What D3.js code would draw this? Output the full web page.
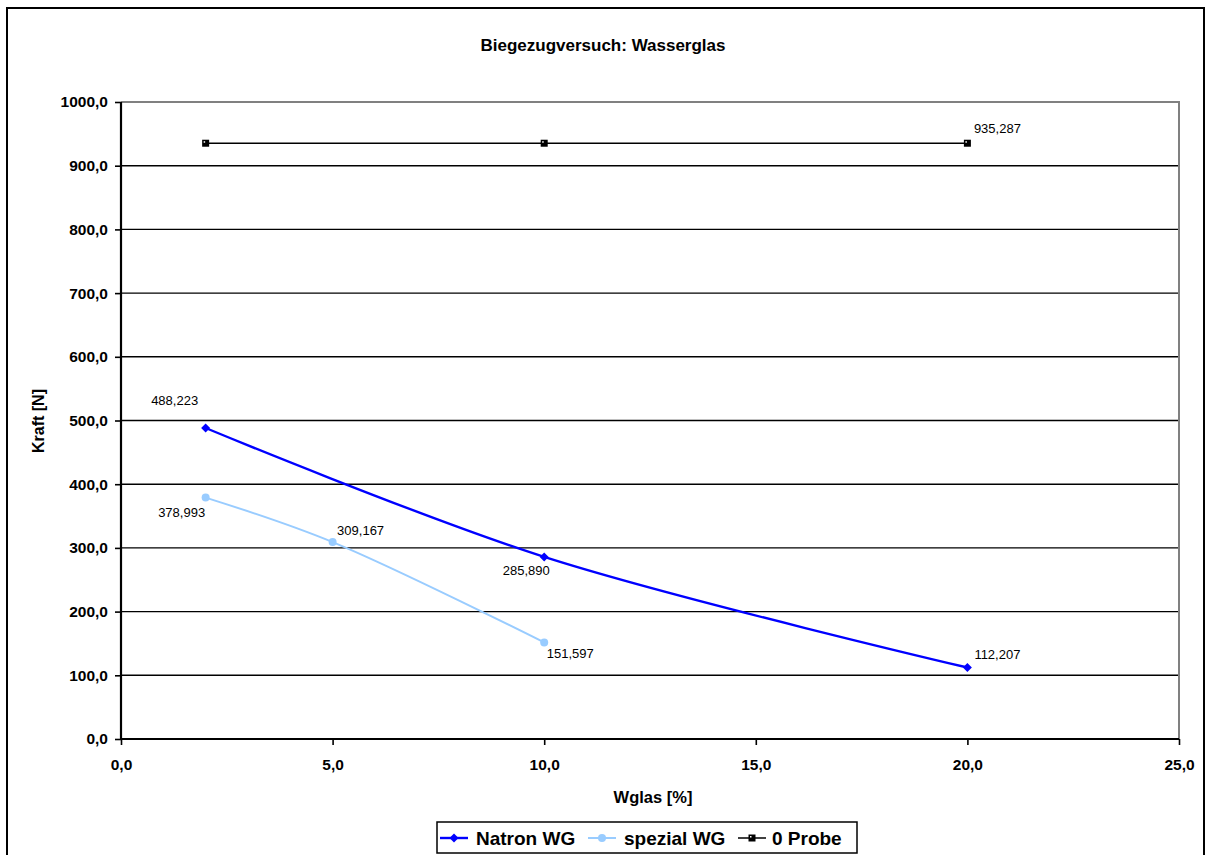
<!DOCTYPE html>
<html>
<head>
<meta charset="utf-8">
<script src="https://cdn.jsdelivr.net/npm/d3@7"></script>
<style>
  body { margin: 0; background: #fff; }
  svg { display: block; font-family: Arial, "Liberation Sans", sans-serif; }
</style>
</head>
<body>
<svg id="chart" width="1207" height="855"></svg>
<script>
// data
const natronX = [2, 10, 20]
const natronY = [488.223, 285.890, 112.207]
const spezialX = [2, 5, 10]
const spezialY = [378.993, 309.167, 151.597]
const probeX = [2, 10, 20]
const probeY = [935.287, 935.287, 935.287]
const xTicks = [0, 5, 10, 15, 20, 25]
const yTicks = [0, 100, 200, 300, 400, 500, 600, 700, 800, 900, 1000]

const svg = d3.select("#chart")
const plotL = 121, plotR = 1179, plotT = 102, plotB = 739

const x = d3.scaleLinear().domain([0, 25]).range([plotL, plotR])
const y = d3.scaleLinear().domain([0, 1000]).range([plotB, plotT])
const comma = f => v => d3.format(f)(v).replace(".", ",")

// outer frame
svg.append("rect").attr("x", 7).attr("y", 8).attr("width", 1197).attr("height", 855)
  .attr("fill", "#fff").attr("stroke", "#000").attr("stroke-width", 2)

svg.append("text").attr("x", 603).attr("y", 51).attr("text-anchor", "middle")
  .attr("font-size", 17).attr("font-weight", "bold").text("Biegezugversuch: Wasserglas")

// gridlines
svg.append("g").selectAll("line").data(yTicks.slice(1, -1)).join("line")
  .attr("x1", plotL).attr("x2", plotR).attr("y1", d => y(d)).attr("y2", d => y(d))
  .attr("stroke", "#000").attr("stroke-width", 1.4)

// plot border top/right (gray)
svg.append("path").attr("d", `M${plotL},${plotT}H${plotR}V${plotB}`)
  .attr("fill", "none").attr("stroke", "#808080").attr("stroke-width", 2)

// axes
const xAxis = svg.append("g").attr("transform", `translate(0,${plotB})`)
  .call(d3.axisBottom(x).tickValues(xTicks).tickFormat(comma(".1f")).tickSize(6).tickPadding(14))
const yAxis = svg.append("g").attr("transform", `translate(${plotL},0)`)
  .call(d3.axisLeft(y).tickValues(yTicks).tickFormat(comma(".1f")).tickSize(6).tickPadding(7))
;[xAxis, yAxis].forEach(a => {
  a.select(".domain").attr("stroke-width", 2.2).attr("stroke", "#000")
  a.selectAll(".tick line").attr("stroke-width", 1.6).attr("stroke", "#000")
  a.selectAll("text").attr("font-size", 15.5).attr("font-weight", "bold")
    .attr("font-family", "Arial, 'Liberation Sans', sans-serif").attr("fill", "#000")
})
xAxis.select(".domain").attr("d", `M${plotL},0H${plotR}`)
yAxis.select(".domain").attr("d", `M0,${plotB}V${plotT}`)

svg.append("text").attr("x", (plotL + plotR) / 2 + 3).attr("y", 803).attr("text-anchor", "middle")
  .attr("font-size", 16.5).attr("font-weight", "bold").text("Wglas [%]")
svg.append("text").attr("transform", "translate(44,421) rotate(-90)").attr("text-anchor", "middle")
  .attr("font-size", 16).attr("font-weight", "bold").text("Kraft [N]")

// label offsets: [dx of text centre, dy of baseline] from the point
const series = [
  { name: "Natron WG", xs: natronX, ys: natronY, color: "#0000ff", width: 2.4, marker: "diamond",
    labels: [[-31, -23], [-18, 18], [30, -9]] },
  { name: "spezial WG", xs: spezialX, ys: spezialY, color: "#99ccff", width: 2, marker: "circle",
    labels: [[-24, 19], [28, -7], [26, 16]] },
  { name: "0 Probe", xs: probeX, ys: probeY, color: "#000", width: 1.5, marker: "square",
    labels: [null, null, [30, -10]] }
]

const line = d3.line().x(d => x(d[0])).y(d => y(d[1])).curve(d3.curveCatmullRom.alpha(0.5))

function marker(g, type, color) {
  if (type === "diamond") {
    g.append("path").attr("d", "M0,-4.5L4.5,0L0,4.5L-4.5,0Z").attr("fill", color)
  } else if (type === "circle") {
    g.append("circle").attr("r", 4).attr("fill", color)
  } else {
    g.append("rect").attr("x", -3.5).attr("y", -3.5).attr("width", 7).attr("height", 7)
      .attr("fill", "#000")
    g.append("rect").attr("x", -2).attr("y", -2).attr("width", 1.5).attr("height", 1.5)
      .attr("fill", "#fff")
  }
}

series.forEach(s => {
  const pts = s.xs.map((v, i) => [v, s.ys[i]])
  svg.append("path").datum(pts).attr("d", line).attr("fill", "none")
    .attr("stroke", s.color).attr("stroke-width", s.width)
  pts.forEach((p, i) => {
    const g = svg.append("g").attr("transform", `translate(${x(p[0])},${y(p[1])})`)
    marker(g, s.marker, s.color)
    const off = s.labels[i]
    if (off) {
      svg.append("text").attr("x", x(p[0]) + off[0]).attr("y", y(p[1]) + off[1])
        .attr("text-anchor", "middle").attr("font-size", 13).attr("fill", "#000")
        .text(comma(".3f")(p[1]))
    }
  })
})

// legend
const lg = svg.append("g")
lg.append("rect").attr("x", 437).attr("y", 822).attr("width", 420).attr("height", 31)
  .attr("fill", "#fff").attr("stroke", "#000").attr("stroke-width", 1.5)
const legendX = [440, 588, 738]
const legendText = [476, 624, 772]
series.forEach((s, i) => {
  const lx = legendX[i]
  lg.append("line").attr("x1", lx).attr("x2", lx + 28).attr("y1", 838).attr("y2", 838)
    .attr("stroke", s.color).attr("stroke-width", s.width)
  marker(lg.append("g").attr("transform", `translate(${lx + 14},838)`), s.marker, s.color)
  lg.append("text").attr("x", legendText[i]).attr("y", 845).attr("font-size", 19)
    .attr("font-weight", "bold").text(s.name)
})
</script>
</body>
</html>
